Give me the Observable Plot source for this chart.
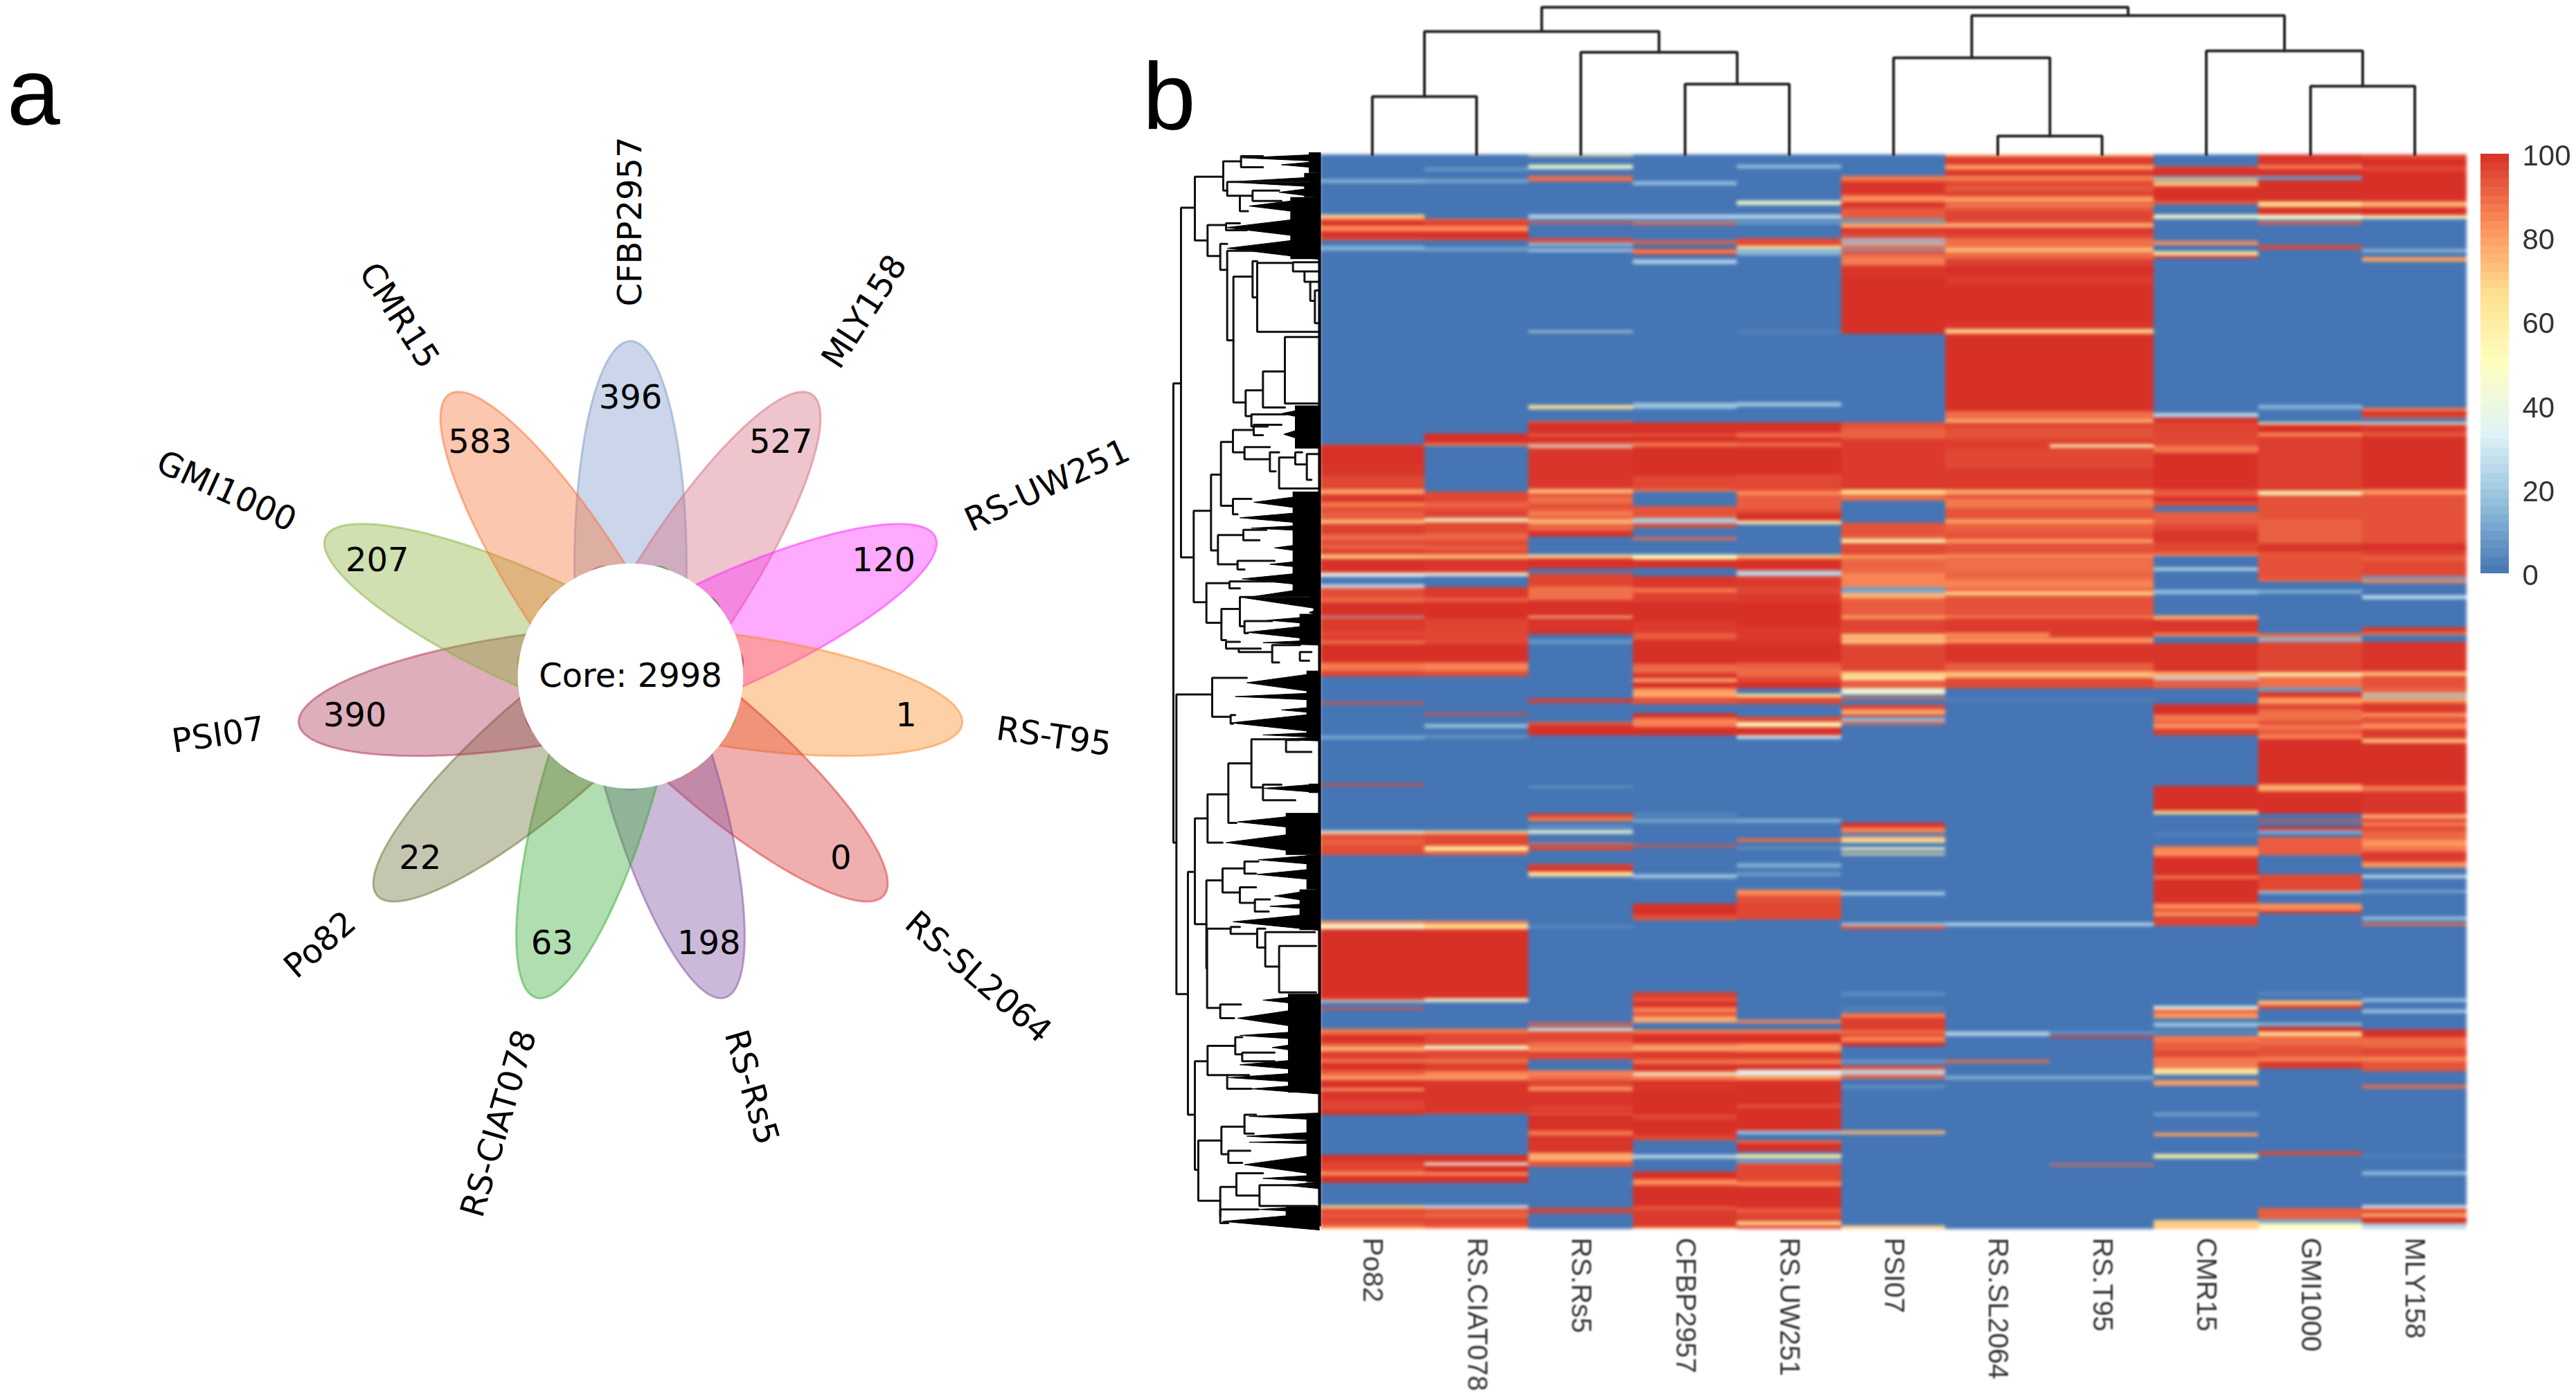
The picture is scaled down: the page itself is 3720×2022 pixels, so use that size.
<!DOCTYPE html>
<html>
<head>
<meta charset="utf-8">
<script src="https://cdn.jsdelivr.net/npm/d3@7"></script>
<script src="https://cdn.jsdelivr.net/npm/@observablehq/plot@0.6"></script>
<style>
html,body{margin:0;padding:0;background:#fff}
#page{position:relative;width:3720px;height:2022px;overflow:hidden;background:#fff}
.panel{position:absolute;font-family:"Liberation Sans",Arial,sans-serif;font-size:138px;line-height:1;color:#000}
</style>
</head>
<body>
<div id="page">
<div class="panel" style="left:10px;top:63px">a</div>
<div class="panel" style="left:1650px;top:70px">b</div>
</div>
<script>
// ---------- panel a: flower ----------
const petalNames  = ["CFBP2957","MLY158","RS-UW251","RS-T95","RS-SL2064","RS-Rs5","RS-CIAT078","Po82","PSI07","GMI1000","CMR15"];
const petalCounts = [396,527,120,1,0,198,63,22,390,207,583];
const petalColors = ["#7d98ca","#d46e82","#fc2afc","#fc8926","#d93737","#7f4f9f","#3aac3a","#6e7037","#ac3452","#89b13a","#f77337"];
const coreLabel = "Core: 2998";

// ---------- panel b: heat map ----------
const columns = ["Po82","RS.CIAT078","RS.Rs5","CFBP2957","RS.UW251","PSI07","RS.SL2064","RS.T95","CMR15","GMI1000","MLY158"];
// each column: four sections of [rowStart, percent, rowStart, percent, ...]
const Po82 = [
[115,15,130,0,270,62,280,78,292,98,318,78,342,100,372,90,380,0,405,14,425,0],
[95,94,105,98,180,96,230,92,290,72,308,92,320,96,345,82,365,91,385,88,422,66,438,94,485,85,510,92,530,86,545,93,572,66,590,97,650,38,668,0,702,28,716,91,760,85,778,98,838,20,846,95,905,92,925,95,945,84,960,98,1040,82,1075,93,1100,0],
[42,90,52,0,188,15,202,0,396,92,404,0,600,45,612,90,640,87,660,91,705,0,990,76,1005,45,1026,100],
[0,100,155,85,165,22,175,0,194,90,203,0,288,82,310,93,320,97,345,93,355,84,368,68,385,94,420,82,435,97,465,88,490,76,510,97,545,70,555,96,600,93,640,96,660,0,835,100,860,93,905,78,925,98,955,0,1052,62,1065,92,1090,87,1100,92,1130,88,1145,70]];
const CIAT078 = [
[65,8,80,0,115,12,130,0,288,88,300,95,318,78,340,100,372,92,380,0,410,10,428,0],
[0,0,48,97,90,82,100,0,298,92,340,90,350,84,362,90,380,93,412,30,420,58,430,92,480,86,510,92,535,86,548,92,572,68,590,96,650,40,665,0,712,95,760,86,775,97,850,93,905,92,960,97,1040,80,1075,91,1100,0],
[90,92,100,0,138,20,152,0,186,8,198,0,600,62,612,92,665,58,688,88,705,0,990,80,1005,62,1026,100],
[0,100,155,45,172,0,288,82,305,92,360,45,378,92,420,82,435,94,470,80,490,76,510,96,650,92,658,0,835,97,868,40,880,97,910,78,925,98,955,0,1052,30,1065,90,1090,85,1105,92,1135,90,1150,70]];
const Rs5 = [
[12,60,18,0,52,45,70,0,102,85,125,0,270,25,288,0,298,88,307,0,372,92,388,0,392,20,405,0,418,30,428,0,772,40,780,0,1095,60,1113,0,1163,85],
[0,97,50,85,60,99,85,85,97,30,106,90,115,96,288,70,308,92,320,84,350,90,380,82,410,90,420,68,438,86,470,97,495,0,572,60,586,97,632,0,652,93,710,84,770,97,838,50,846,96,900,100,918,0,940,8,958,0],
[28,95,44,0,128,88,140,97,186,0,405,7,415,0,525,95,540,82,558,0,578,14,586,0,597,42,612,0,652,82,658,0,662,92,685,0,745,92,755,98,778,60,797,0,1010,6,1020,0],
[262,88,276,0,285,40,298,92,345,84,375,72,385,93,420,0,468,80,490,84,510,93,540,74,555,96,620,93,640,98,650,88,660,97,730,82,750,96,825,72,860,90,885,0,1065,94,1085,0]];
const CFBP2957 = [
[125,20,140,0,270,25,288,0,298,20,303,88,313,0,380,88,394,0,415,92,425,72,435,94,442,0,463,25,482,0,1085,20,1108,0],
[0,99,50,88,60,100,85,82,105,100,230,92,290,82,300,0,362,90,412,22,436,92,456,0,496,85,510,0,572,50,592,100,630,0,665,96,715,83,738,94,780,100,860,95,910,88,940,97,1025,100,1045,85,1085,96,1108,72,1125,100,1150,76],
[0,72,20,90,50,0,90,100,110,80,150,98,186,0,526,5,536,0,550,12,565,0,660,90,670,0,790,22,805,0,915,100,965,90,988,0],
[130,95,150,90,170,100,195,80,215,90,235,72,262,0,290,82,310,97,350,80,365,72,385,95,420,84,440,99,470,80,478,40,488,80,510,96,560,100,660,92,680,100,750,92,772,0,835,28,850,0,905,100,940,78,965,100,1055,90,1075,95,1150,62]];
const UW251 = [
[52,18,68,0,208,45,226,0,270,25,288,0,295,8,310,0,372,92,402,90,405,60,415,15,445,0,770,3,785,0,1082,20,1100,0],
[0,97,25,100,45,85,65,100,85,85,105,100,225,92,295,78,315,88,380,93,395,98,425,55,440,0,572,68,590,98,640,25,665,95,712,92,740,95,780,100,880,95,945,96,960,98,1040,88,1065,85,1100,92,1125,100,1150,0],
[5,60,20,92,50,0,105,92,130,50,150,98,186,30,200,0,550,14,565,0,634,85,648,0,670,6,680,0,742,14,758,0,780,10,795,0,855,78,880,90,905,92,985,0],
[250,80,265,0,290,82,310,97,350,75,388,95,420,82,440,97,465,35,490,75,510,97,615,90,630,100,730,20,745,0,770,85,782,99,820,0,830,55,850,0,858,12,870,92,950,78,970,100,1065,88,1085,93,1122,60,1138,90]];
const PSI07 = [
[102,82,125,96,185,78,215,100,235,90,250,88,285,0,291,70,297,0,305,72,325,100,345,92,372,20,382,88,390,20,400,85,415,90,420,10,428,92,440,84,460,80,475,84,490,96,540,98,575,100,785,0],
[0,90,25,87,70,95,280,100,290,62,310,85,338,0,435,90,490,85,505,50,520,92,572,77,590,86,650,80,712,10,738,70,762,88,835,75,850,93,918,60,930,80,938,68,958,93,1080,65,1105,50,1115,88,1150,40],
[0,50,8,0,20,85,30,0,55,92,75,72,95,92,105,0,110,22,122,0,125,84,138,0,565,100,585,80,610,0,625,70,640,58,650,0,672,50,683,0,696,60,706,0,865,22,880,0,1000,22,1010,90,1025,0],
[130,6,145,0,192,4,205,0,218,82,240,94,295,84,310,94,322,80,345,97,362,0,422,10,435,0,448,90,466,25,486,87,505,0,530,6,545,0,730,70,745,0,1140,65]];
const SL2064 = [
[8,70,18,95,52,75,75,96,100,80,122,92,150,88,165,93,190,75,215,90,225,82,240,90,255,93,305,72,325,100,345,93,370,84,412,68,432,85,460,94,495,97,530,95,575,100,730,96,765,65,785,100,1120,84,1150,95,1155,70],
[0,92,30,90,70,94,120,92,200,95,290,72,312,90,330,82,370,90,420,74,438,87,470,90,505,74,520,90,572,75,585,90,590,84,640,86,680,80,720,88,730,65,750,90,838,78,848,95,910,76,925,88,935,76,955,96,1040,88,1080,68,1105,92,1150,0],
[30,4,40,0,998,30,1012,0],
[300,25,318,0,424,85,435,0,492,14,508,0]];
const T95 = [
[8,70,18,95,52,75,75,96,100,80,122,92,150,88,165,93,190,75,215,90,225,82,240,90,255,93,305,72,325,100,345,93,370,84,412,68,432,85,460,94,495,97,530,95,575,100,730,96,765,65,785,100,1120,84,1150,95,1155,70],
[0,92,30,90,70,94,95,50,108,92,200,95,290,72,312,90,330,82,370,90,420,74,438,87,470,90,505,74,520,90,572,75,585,90,590,84,640,86,680,80,720,88,730,65,750,90,838,78,848,95,925,88,935,76,955,96,1040,88,1080,68,1105,92,1150,0],
[30,4,40,0,998,30,1012,0],
[300,8,312,0,317,95,328,0,492,14,508,0,872,85,882,0]];
const CMR15 = [
[58,88,66,100,100,8,110,70,118,8,125,68,145,100,210,88,225,0,270,45,288,0,382,78,400,0,428,58,445,95,457,0,1130,30,1145,0,1148,100],
[0,93,45,92,100,82,130,97,290,88,320,100,340,92,362,0,385,88,440,92,470,96,520,92,565,80,578,0,630,28,642,0,725,18,742,0,835,72,855,96,912,80,925,0,955,96,1060,100,1080,72,1102,25,1116,88,1150,0],
[50,97,95,82,125,90,135,76,155,94,186,0,405,100,512,62,528,0,610,3,620,0,665,82,680,78,710,97,795,80,807,99,915,78,940,93,950,76,970,93,1012,0],
[190,40,205,88,220,76,242,0,262,20,280,0,295,5,310,0,318,82,345,87,380,92,410,82,460,60,485,0,510,75,535,0,650,10,665,0,737,75,752,0,832,55,850,0,1115,66]];
const GMI1000 = [
[8,96,52,82,70,97,100,8,120,97,212,62,235,100,270,45,290,0,298,88,310,0,402,92,418,0,1095,15,1112,0],
[0,50,8,97,45,78,60,94,295,50,315,90,420,87,525,96,560,90,680,85,690,0,725,14,740,0,915,85,932,15,950,93,1082,55,1100,84,1148,8,1165,85],
[0,97,20,76,50,93,75,84,125,94,138,82,160,88,185,78,200,100,400,72,428,97,525,0,552,90,562,0,582,97,598,14,612,0,628,88,705,0,790,92,860,25,870,0,915,78,945,95,958,0],
[130,4,145,0,165,70,185,95,200,0,262,14,275,0,280,100,300,60,318,85,360,90,410,80,430,95,460,0,820,92,835,0,1065,88,1112,12,1130,50]];
const MLY158 = [
[8,93,30,97,60,92,80,98,212,70,235,98,272,50,288,0,418,18,432,0,452,75,472,0,1105,82,1120,97,1142,88,1150,0],
[0,40,8,95,45,88,60,97,290,75,310,90,525,100,550,94,575,88,600,92,665,8,680,80,695,0,750,30,765,0,888,95,912,80,920,0,950,96,1078,68,1098,90,1145,88],
[0,70,8,15,22,75,45,95,90,75,105,90,135,78,160,95,200,68,220,99,405,82,430,96,528,72,545,92,565,80,580,92,600,86,640,76,665,82,690,95,735,76,760,0,792,30,803,0,858,15,868,0,972,18,988,0,998,85,1012,0],
[155,18,170,0,205,20,220,0,290,97,325,85,370,92,408,80,430,90,470,0,530,85,547,0,835,3,845,0,905,18,920,0,1052,35,1065,90,1090,72,1105,97,1130,25]];
const columnStripes = [Po82,CIAT078,Rs5,CFBP2957,UW251,PSI07,SL2064,T95,CMR15,GMI1000,MLY158];
const colorStops = [0,16.67,33.33,50,66.67,83.33,100];
const heatStops  = [0,16.67,33.33,50,62,78,97];
const colorRange = ["#4575b4","#91bfdb","#e0f3f8","#ffffbf","#fee090","#fc8d59","#d73027"];
const legendTicks = [0,20,40,60,80,100];

// column dendrogram: [left, right, merge height]; ids >= 11 are earlier merges
const columnMerges = [[0,1,84],[3,4,102],[2,12,148],[11,13,178],[6,7,27],[5,15,140],[9,10,99],[8,17,150],[16,18,201],[14,19,213]];

// row dendrogram: [join, yTop, childTop, yBottom, childBottom]
const rowBrackets = [
[12,670,45,2003,25],[45,160,105,1175,100],[105,70,228,255,160],[228,25,305,110,245],[305,10,400,42,400],[245,85,600,125,300],[300,125,355,170,335],[355,110,470,140,480],
[160,210,240,300,215],[240,205,300,225,330],[215,265,245,340,245],[245,285,355,545,272],[355,315,375,420,375],[375,320,530,520,640],[530,318,640,345,580],[580,345,640,375,605],[605,375,640,430,625],[625,400,640,495,640],
[272,360,355,725,325],[325,690,400,765,350],[400,635,495,740,495],[495,535,640,728,640],[350,760,500,795,420],
[100,1040,175,1305,155],[175,935,218,1155,205],[218,840,270,1025,270],[270,805,360,870,320],[360,790,480,820,400],[320,855,430,890,430],[430,870,470,925,455],[470,885,540,975,640],[540,870,570,905,590],[590,875,640,950,610],
[270,1005,350,1050,290],[205,1110,315,1195,290],[315,1095,415,1125,385],[290,1185,450,1210,320],
[155,1250,255,1365,220],[255,1245,450,1265,300],[220,1325,300,1415,240],[300,1290,600,1375,320],[320,1360,440,1395,335],[240,1420,300,1440,295],[295,1440,390,1450,440],[440,1430,560,1480,470],[560,1450,610,1475,600],
[25,1573,180,2443,75],[180,1525,330,1638,260],[260,1633,280,1658,270],
[75,2088,105,2793,105],[105,1933,160,2240,155],[160,1863,250,2003,225],[250,1773,350,1946,285],[350,1703,500,1843,400],[500,1705,560,1740,610],[400,1835,480,1880,540],
[155,2113,225,2368,158],[158,2253,260,2483,215],[225,2078,320,2148,300],[320,2058,380,2093,370],[300,2133,370,2178,365],[365,2168,430,2203,425],[260,2248,300,2268,375],[375,2253,410,2308,410],[410,2263,625,2363,470],[470,2303,630,2438,630],
[215,2473,305,2513,275],[105,2638,160,2953,120],[160,2593,280,2678,245],[280,2568,310,2618,310],[310,2613,450,2638,450],[245,2678,340,2718,350],
[120,2868,220,3043,215],[220,2828,320,2908,250],[320,2793,370,2848,360],[250,2898,345,2933,310],[215,3003,285,3088,215],[285,2963,400,3028,385],[385,2998,620,3058,630],[215,3068,380,3108,250]];

// dense leaf wedges of the row dendrogram: [rowStart, rowEnd, tip]
const rowWedges = [
[5,25,310],[25,45,480],[70,100,250],[100,130,470],[130,180,340],[185,250,240],[245,310,245],[735,780,480],[785,850,490],[990,1040,360],[1040,1080,300],[1080,1100,350],[1100,1130,560],[1130,1165,450],[1180,1210,430],[1215,1260,310],[1260,1325,320],[1325,1345,600],[1345,1370,420],[1370,1415,330],[1415,1430,400],[1510,1568,330],
[1568,1590,280],[1608,1628,480],[1628,1683,260],[1683,1698,400],[1698,1708,440],[1833,1858,400],[1918,1968,290],[1968,2038,240],[2038,2068,380],[2078,2113,375],[2138,2178,450],[2178,2198,430],[2208,2258,270],[2443,2478,400],[2478,2548,290],[2548,2578,300],[2578,2618,440],[2628,2668,300],[2668,2703,250],[2703,2733,350],[2788,2808,340],[2843,2868,330],[2868,2878,340],[2908,2968,320],[2968,2988,400],[2988,3008,500],[3058,3078,380],[3078,3128,225]];
// solid black leaf mass next to the heat map: [rowStart, rowEnd, from]
const rowMass = [[0,60,600],[60,130,580],[130,310,520],[735,860,540],[985,1285,530],[1285,1340,620],[1340,1430,560],[1505,1700,590],[1833,1860,600],[1918,2040,500],[2040,2140,590],[2140,2258,560],[2443,2730,510],[2790,2990,590],[3060,3118,500]];

// ---------- helpers ----------
const page = document.getElementById("page");
function place(svg,left,top,extra){
  svg.style.position="absolute"; svg.style.left=left+"px"; svg.style.top=top+"px";
  svg.style.maxWidth="none"; svg.style.overflow="visible"; svg.style.background="transparent";
  if(extra) svg.style.filter=extra;
  page.appendChild(svg);
}
const rad = d=>d*Math.PI/180;

// ---------- flower ----------
const step = 360/petalNames.length;
const petalAngle = i => 90 - i*step;
const tipReach = 484, backReach = 164, halfWidth = 81;
const longAxis = (tipReach+backReach)/2, petalCentre = tipReach-longAxis;
function petalOutline(i){
  const a = rad(petalAngle(i));
  return d3.range(0,361,3).map(t=>{
    const u = petalCentre + longAxis*Math.cos(rad(t)), v = halfWidth*Math.sin(rad(t));
    return {x:u*Math.cos(a)-v*Math.sin(a), y:u*Math.sin(a)+v*Math.cos(a)};
  });
}
const polar = (i,r)=>({x:r*Math.cos(rad(petalAngle(i))), y:r*Math.sin(rad(petalAngle(i)))});
const labelRows = petalNames.map((name,i)=>{
  const right = Math.cos(rad(petalAngle(i))) > -1e-9;
  return {name,right,...polar(i,534),rotate:right? -petalAngle(i) : 180-petalAngle(i)};
});
const countRows = petalCounts.map((count,i)=>({count,...polar(i,402)}));
const textFont = "DejaVu Sans";
place(Plot.plot({
  width:1600,height:1600,margin:0,
  x:{domain:[-800,800],range:[0,1600],axis:null},
  y:{domain:[-800,800],range:[1600,0],axis:null},
  marks:[
    ...petalNames.map((_,i)=>Plot.line(petalOutline(i),{x:"x",y:"y",fill:petalColors[i],fillOpacity:0.4,stroke:petalColors[i],strokeOpacity:0.5,strokeWidth:3})),
    Plot.dot([{x:0,y:0}],{x:"x",y:"y",r:162,fill:"white",stroke:"white"}),
    Plot.text(labelRows.filter(d=>d.right),{x:"x",y:"y",text:"name",rotate:"rotate",textAnchor:"start",lineAnchor:"middle",fontSize:48,fontFamily:textFont,fill:"#000"}),
    Plot.text(labelRows.filter(d=>!d.right),{x:"x",y:"y",text:"name",rotate:"rotate",textAnchor:"end",lineAnchor:"middle",fontSize:48,fontFamily:textFont,fill:"#000"}),
    Plot.text(countRows,{x:"x",y:"y",text:d=>String(d.count),fontSize:48,fontFamily:textFont,fill:"#000"}),
    Plot.text([coreLabel],{x:()=>0,y:()=>0,text:d=>d,fontSize:48,fontFamily:textFont,fill:"#000"})
  ]
}),110,176);

// ---------- heat map ----------
const rowStart = 8, rowEnd = 4665, sectionSpan = 1170;
const heatRows = columns.flatMap((column,c)=>columnStripes[c].flatMap((pairs,s)=>{
  const list = pairs[0]===0 ? pairs : [0,0,...pairs];
  const out = [];
  for(let j=0;j<list.length;j+=2){
    const y1 = s*sectionSpan+list[j];
    const y2 = s*sectionSpan+(j+2<list.length?list[j+2]:sectionSpan);
    const a = Math.max(y1,rowStart), b = Math.min(y2,rowEnd);
    if(b>a) out.push({column,y1:a,y2:b,value:list[j+1]});
  }
  return out;
}));
place(Plot.plot({
  width:1656,height:1552,margin:0,
  x:{type:"band",domain:columns,padding:0,round:false,range:[0,1656],axis:null},
  y:{domain:[rowStart,rowEnd],range:[0,1552],axis:null},
  color:{type:"linear",domain:heatStops,range:colorRange,clamp:true,interpolate:"rgb"},
  marks:[Plot.barY(heatRows,{x:"column",y1:"y1",y2:"y2",fill:"value",shapeRendering:"crispEdges"})]
}),1906,223,"blur(2.4px)");

// ---------- column labels ----------
place(Plot.plot({
  width:1656,height:240,margin:0,
  x:{type:"band",domain:columns,padding:0,round:false,range:[0,1656],axis:null},
  y:{domain:[0,1],range:[0,240],axis:null},
  marks:[Plot.text(columns,{x:d=>d,y:()=>0,text:d=>d,rotate:90,textAnchor:"start",lineAnchor:"middle",fontSize:40,fontFamily:"Liberation Sans",fill:"#333"})]
}),1906,1787,"blur(0.8px)");

// ---------- column dendrogram ----------
const nodeState = columns.map((_,i)=>({pos:i+0.5,h:0}));
const columnPaths = columnMerges.flatMap(([l,r,h],k)=>{
  const L=nodeState[l],R=nodeState[r];
  nodeState.push({pos:(L.pos+R.pos)/2,h});
  return [{k,x:L.pos,y:L.h},{k,x:L.pos,y:h},{k,x:R.pos,y:h},{k,x:R.pos,y:R.h}];
});
place(Plot.plot({
  width:1656,height:223,margin:0,
  x:{domain:[0,columns.length],range:[0,1656],axis:null},
  y:{domain:[0,223],range:[223,0],axis:null},
  marks:[Plot.line(columnPaths,{x:"x",y:"y",z:"k",stroke:"#222",strokeWidth:4,strokeLinejoin:"miter"})]
}),1906,0,"blur(0.8px)");

// ---------- row dendrogram ----------
const edge = 645;
const rowPaths = rowBrackets.flatMap(([x,y1,c1,y2,c2],k)=>[{k,x:c1,y:y1},{k,x,y:y1},{k,x,y:y2},{k,x:c2,y:y2}]);
const wedgePaths = rowWedges.flatMap(([y1,y2,tip],k)=>{
  const m=(y1+y2)/2, h=(y2-y1)/2, near=tip+(edge-tip)*0.45;
  return [{k,x:edge,y:y1},{k,x:near,y:m-h*0.45},{k,x:tip,y:m},{k,x:near,y:m+h*0.45},{k,x:edge,y:y2}];
});
place(Plot.plot({
  width:216,height:1560,margin:0,
  x:{domain:[0,648],range:[0,216],axis:null},
  y:{domain:[0,3136],range:[0,1560],axis:null},
  marks:[
    Plot.line(wedgePaths,{x:"x",y:"y",z:"k",fill:"#000",stroke:"#000",strokeWidth:1}),
    Plot.rect(rowMass,{x1:d=>d[2],x2:()=>edge,y1:d=>d[0],y2:d=>d[1],fill:"#000"}),
    Plot.line(rowPaths,{x:"x",y:"y",z:"k",stroke:"#111",strokeWidth:3,strokeLinejoin:"miter"}),
    Plot.ruleX([edge],{y1:0,y2:3118,stroke:"#000",strokeWidth:4})
  ]
}),1690,220,"blur(0.7px)");

// ---------- colour key ----------
const keyLevels = d3.range(0,100,2);
place(Plot.plot({
  width:138,height:650,marginTop:22,marginBottom:22,marginLeft:0,marginRight:97,
  x:{domain:[0,1],axis:null},
  y:{domain:[0,100],axis:null},
  color:{type:"linear",domain:colorStops,range:colorRange,clamp:true,interpolate:"rgb"},
  marks:[
    Plot.rect(keyLevels,{x1:()=>0,x2:()=>1,y1:d=>d,y2:d=>d+2,fill:d=>d+1,shapeRendering:"crispEdges"}),
    Plot.axisY({anchor:"right",ticks:legendTicks,tickFormat:d=>String(d),tickSize:0,tickPadding:19,fontSize:42,fontFamily:"Liberation Sans",fill:"#333",dy:3,label:null,textAnchor:"start"})
  ]
}),3582,200,"blur(0.7px)");
</script>
</body>
</html>
